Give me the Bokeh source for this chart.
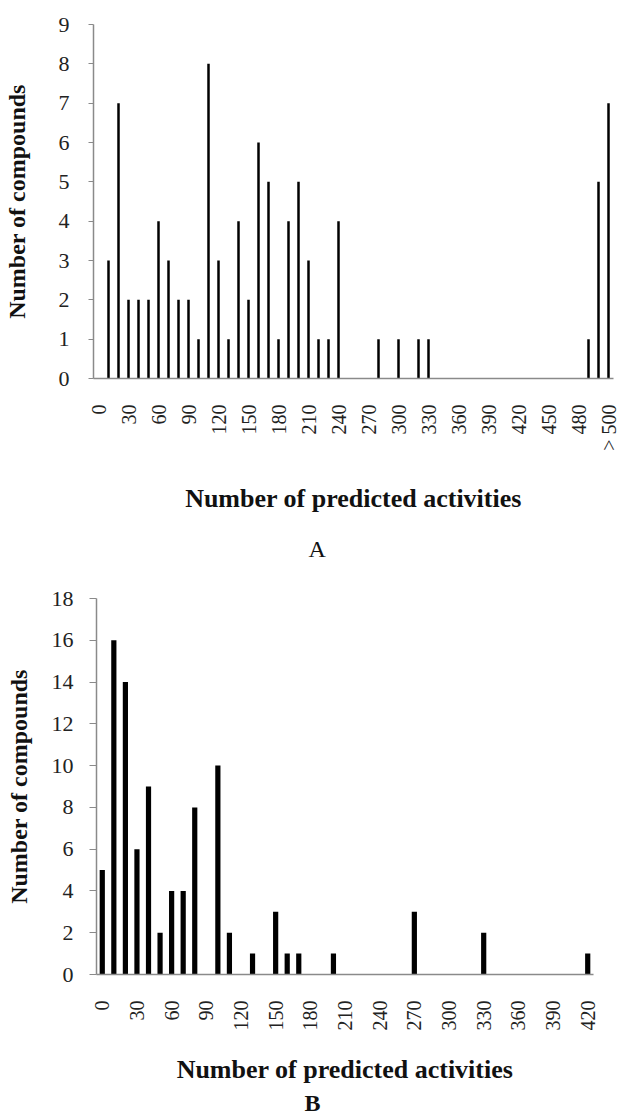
from bokeh.plotting import figure
from bokeh.models import Range1d, FixedTicker, CustomJSTickFormatter, Title
from bokeh.embed import file_html
from bokeh.resources import INLINE
import math

# ---------------- data ----------------
a_categories = [str(v) for v in range(0, 510, 10)] + ["> 500"]
a_counts = [0, 3, 7, 2, 2, 2, 4, 3, 2, 2, 1, 8, 3, 1, 4, 2, 6, 5, 1, 4,
            5, 3, 1, 1, 4, 0, 0, 0, 1, 0, 1, 0, 1, 1, 0, 0, 0, 0, 0, 0,
            0, 0, 0, 0, 0, 0, 0, 0, 0, 1, 5, 7]
a_labelled = ["0", "30", "60", "90", "120", "150", "180", "210", "240", "270",
              "300", "330", "360", "390", "420", "450", "480", "> 500"]
a_yticks = [0, 1, 2, 3, 4, 5, 6, 7, 8, 9]

b_categories = [str(v) for v in range(0, 430, 10)]
b_counts = [5, 16, 14, 6, 9, 2, 4, 4, 8, 0, 10, 2, 0, 1, 0, 3, 1, 1, 0, 0,
            1, 0, 0, 0, 0, 0, 0, 3, 0, 0, 0, 0, 0, 2, 0, 0, 0, 0, 0, 0,
            0, 0, 1]
b_labelled = ["0", "30", "60", "90", "120", "150", "180", "210", "240", "270",
              "300", "330", "360", "390", "420"]
b_yticks = [0, 2, 4, 6, 8, 10, 12, 14, 16, 18]

SERIF = "Liberation Serif"
AXIS_COL = "#8a8a8a"


def make_panel(cats, counts, labelled, yticks, ymax, bar_w, height, borders,
               ytick_out, ylab_standoff, ytitle_standoff, xtitle_standoff,
               letter, letter_bold, letter_offset, letter_standoff):
    left, right, top, bottom = borders
    n = len(cats)
    xs = list(range(n))
    p = figure(x_range=Range1d(-0.5, n - 0.5), y_range=Range1d(0, ymax),
               width=621, height=height, output_backend="svg",
               toolbar_location=None,
               min_border_left=left, min_border_right=right,
               min_border_top=top, min_border_bottom=bottom)
    p.vbar(x=xs, top=counts, width=bar_w, color="black", line_width=0)
    p.outline_line_color = None
    p.xgrid.grid_line_color = None
    p.ygrid.grid_line_color = None

    # x axis
    xa = p.xaxis[0]
    xa.ticker = FixedTicker(ticks=[i for i, c in enumerate(cats) if c in labelled])
    xa.formatter = CustomJSTickFormatter(
        args=dict(labels=cats),
        code="const i = Math.round(tick); return (i >= 0 && i < labels.length) ? labels[i] : '';")
    xa.major_label_orientation = math.pi / 2
    xa.major_tick_line_color = None
    xa.minor_tick_line_color = None
    xa.major_tick_out = 0
    xa.major_tick_in = 0
    xa.axis_line_color = AXIS_COL
    xa.axis_line_width = 1.5
    xa.major_label_text_font = SERIF
    xa.major_label_text_font_size = "20px"
    xa.major_label_text_color = "#222222"
    xa.major_label_standoff = 26
    xa.axis_label = "Number of predicted activities"
    xa.axis_label_text_font = SERIF
    xa.axis_label_text_font_style = "bold"
    xa.axis_label_text_font_size = "26px"
    xa.axis_label_text_color = "#111111"
    xa.axis_label_standoff = xtitle_standoff

    # y axis
    ya = p.yaxis[0]
    ya.ticker = yticks
    ya.minor_tick_line_color = None
    ya.major_tick_out = ytick_out
    ya.major_tick_in = 0
    ya.major_tick_line_color = AXIS_COL
    ya.axis_line_color = AXIS_COL
    ya.axis_line_width = 1.5
    ya.major_label_text_font = SERIF
    ya.major_label_text_font_size = "22px"
    ya.major_label_text_color = "#222222"
    ya.major_label_standoff = ylab_standoff
    ya.axis_label = "Number of compounds"
    ya.axis_label_text_font = SERIF
    ya.axis_label_text_font_style = "bold"
    ya.axis_label_text_font_size = "24px"
    ya.axis_label_text_color = "#111111"
    ya.axis_label_standoff = ytitle_standoff

    p.add_layout(Title(text=letter, align="left", offset=letter_offset,
                       text_font=SERIF, text_font_size="24px",
                       text_font_style="bold" if letter_bold else "normal",
                       text_color="#111111", text_line_height=1.0,
                       standoff=letter_standoff), "below")
    return p


pa = make_panel(a_categories, a_counts, a_labelled, a_yticks, 9, 0.25, 580,
                (92, 8, 24, 202), 5, 19, 26, 30, "A", False, 215, 36)
pb = make_panel(b_categories, b_counts, b_labelled, b_yticks, 18, 0.45, 537,
                (96, 28, 18, 143), 7, 16, 17, 21, "B", True, 208, 2)

open("out.html", "w").write(file_html([pa, pb], INLINE))
